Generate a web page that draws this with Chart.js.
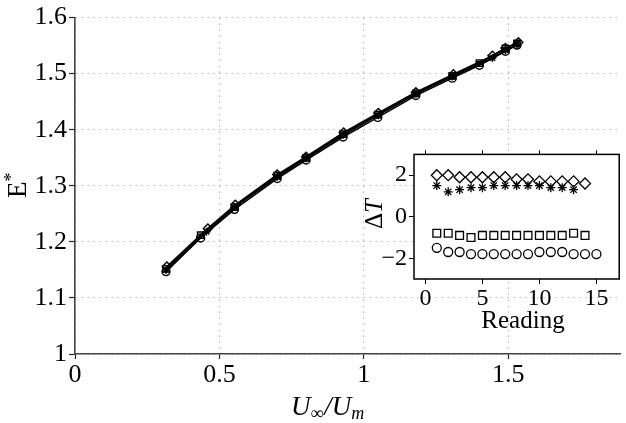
<!DOCTYPE html>
<html>
<head>
<meta charset="utf-8">
<script src="https://cdn.jsdelivr.net/npm/chart.js@4"></script>
<style>
html, body { margin: 0; padding: 0; background: #fff; }
#wrap { position: relative; width: 626px; height: 423px; overflow: hidden; }
#mainChart { position: absolute; left: 0; top: 0; }
#insetChart { position: absolute; left: 360px; top: 138px; }
</style>
</head>
<body>
<div id="wrap">
  <canvas id="mainChart" width="626" height="423"></canvas>
  <canvas id="insetChart" width="266" height="200"></canvas>
</div>
<script>
// ---- main plot data: E* against U_inf/U_m, one run per marker ----
const circleX   = [0.315, 0.435, 0.552, 0.700, 0.800, 0.928, 1.048, 1.180, 1.306, 1.400, 1.490, 1.530];
const circleY   = [1.147, 1.207, 1.258, 1.313, 1.346, 1.387, 1.422, 1.461, 1.492, 1.515, 1.540, 1.551];
const squareX   = [0.315, 0.435, 0.552, 0.700, 0.800, 0.928, 1.048, 1.180, 1.306, 1.400, 1.490, 1.530];
const squareY   = [1.152, 1.212, 1.262, 1.318, 1.350, 1.392, 1.427, 1.465, 1.496, 1.519, 1.545, 1.554];
const diamondX  = [0.318, 0.460, 0.555, 0.700, 0.800, 0.930, 1.050, 1.180, 1.310, 1.445, 1.490, 1.535];
const diamondY  = [1.156, 1.224, 1.266, 1.320, 1.352, 1.395, 1.430, 1.467, 1.499, 1.532, 1.546, 1.556];
const asteriskX = [0.315, 0.455, 0.552, 0.700, 0.800, 0.930, 1.050, 1.180, 1.306, 1.445, 1.490, 1.530];
const asteriskY = [1.150, 1.218, 1.262, 1.316, 1.349, 1.391, 1.426, 1.464, 1.495, 1.528, 1.542, 1.552];

const mainXTicks = [0, 0.5, 1, 1.5];
const mainXLabels = ['0', '0.5', '1', '1.5'];
const mainYTicks = [1, 1.1, 1.2, 1.3, 1.4, 1.5, 1.6];
const mainYLabels = ['1', '1.1', '1.2', '1.3', '1.4', '1.5', '1.6'];

// ---- inset data: Delta T per reading ----
const readings = [1, 2, 3, 4, 5, 6, 7, 8, 9, 10, 11, 12, 13, 14, 15];
const dtDiamond  = [2.0, 2.0, 1.9, 1.9, 1.9, 1.9, 1.9, 1.8, 1.8, 1.7, 1.7, 1.7, 1.7, 1.6];
const dtAsterisk = [1.5, 1.2, 1.3, 1.4, 1.4, 1.5, 1.5, 1.5, 1.5, 1.5, 1.4, 1.4, 1.3];
const dtSquare   = [-0.8, -0.8, -0.9, -1.0, -0.9, -0.9, -0.9, -0.9, -0.9, -0.9, -0.9, -0.9, -0.8, -0.9];
const dtCircle   = [-1.5, -1.7, -1.7, -1.8, -1.8, -1.8, -1.8, -1.8, -1.8, -1.7, -1.7, -1.7, -1.8, -1.8, -1.8];

const insetXTicks = [0, 5, 10, 15];
const insetXLabels = ['0', '5', '10', '15'];
const insetYTicks = [-2, 0, 2];
const insetYLabels = ['\u22122', '0', '2'];

const SERIF = "'Liberation Serif', 'DejaVu Serif', serif";

function pairs(xs, ys) {
    return ys.map((y, i) => ({ x: xs[i], y: y }));
}

function fixedTicks(values) {
    return function (scale) {
        scale.ticks = values.map(v => ({ value: v }));
    };
}

function labelFor(values, labels) {
    return function (v) {
        const i = values.findIndex(t => Math.abs(t - v) < 1e-9);
        return i >= 0 ? labels[i] : '';
    };
}

function mainSeries(label, xs, ys, style, radius) {
    return {
        label: label,
        data: pairs(xs, ys),
        borderColor: '#000',
        backgroundColor: 'rgba(0,0,0,0)',
        borderWidth: 1.6,
        pointStyle: style,
        pointRadius: radius,
        pointBorderWidth: 1.4,
        pointBorderColor: '#000',
        showLine: true,
        tension: 0
    };
}

function insetSeries(label, ys, style, radius) {
    return {
        label: label,
        data: pairs(readings, ys),
        borderColor: '#000',
        backgroundColor: 'rgba(0,0,0,0)',
        pointStyle: style,
        pointRadius: radius,
        pointBorderWidth: 1.3,
        showLine: false
    };
}

// axis titles with sub/superscripts drawn straight on the canvas
const mainTitles = {
    id: 'mainTitles',
    afterDraw(chart) {
        const ctx = chart.ctx;
        ctx.save();
        ctx.fillStyle = '#000';
        ctx.textBaseline = 'alphabetic';
        // x title: U_inf / U_m
        let x = 291, y = 415;
        ctx.font = 'italic 27px ' + SERIF;
        ctx.fillText('U', x, y); x += ctx.measureText('U').width;
        ctx.font = '18px ' + SERIF;
        ctx.fillText('\u221e', x, y + 4); x += ctx.measureText('\u221e').width + 1;
        ctx.font = 'italic 27px ' + SERIF;
        ctx.fillText('/U', x, y); x += ctx.measureText('/U').width;
        ctx.font = 'italic 18px ' + SERIF;
        ctx.fillText('m', x, y + 4);
        // y title: E*
        ctx.translate(26, 198);
        ctx.rotate(-Math.PI / 2);
        ctx.font = '27px ' + SERIF;
        ctx.fillText('E', 0, 0);
        const w = ctx.measureText('E').width;
        ctx.font = '18px ' + SERIF;
        ctx.fillText('*', w, -9);
        ctx.restore();
    }
};

const insetBox = {
    id: 'insetBox',
    beforeDraw(chart) {
        const a = chart.chartArea;
        chart.ctx.save();
        chart.ctx.fillStyle = '#fff';
        chart.ctx.fillRect(a.left, a.top, a.right - a.left, a.bottom - a.top);
        chart.ctx.restore();
    },
    afterDraw(chart) {
        const a = chart.chartArea;
        const ctx = chart.ctx;
        ctx.save();
        ctx.strokeStyle = '#000';
        ctx.lineWidth = 1.5;
        ctx.strokeRect(a.left, a.top, a.right - a.left, a.bottom - a.top);
        ctx.fillStyle = '#000';
        ctx.textAlign = 'center';
        ctx.font = '25px ' + SERIF;
        ctx.fillText('Reading', 163, 190);
        ctx.translate(22, 91);
        ctx.rotate(-Math.PI / 2);
        ctx.textAlign = 'left';
        ctx.fillText('\u0394', 0, 0);
        const w = ctx.measureText('\u0394').width;
        ctx.font = 'italic 25px ' + SERIF;
        ctx.fillText('T', w, 0);
        ctx.restore();
    }
};

function mainGrid(tickLength) {
    return {
        color: '#8c8c8c',
        lineWidth: 1,
        tickLength: tickLength,
        tickBorderDash: [],
        tickColor: '#222',
        tickWidth: 1.2
    };
}

new Chart(document.getElementById('mainChart').getContext('2d'), {
    type: 'scatter',
    data: {
        datasets: [
            mainSeries('circle', circleX, circleY, 'circle', 4),
            mainSeries('square', squareX, squareY, 'rect', 4.5),
            mainSeries('diamond', diamondX, diamondY, 'rectRot', 4.5),
            mainSeries('asterisk', asteriskX, asteriskY, 'star', 4)
        ]
    },
    options: {
        responsive: false,
        animation: false,
        layout: { padding: { top: 16, left: 0, right: 0, bottom: 0 } },
        plugins: { legend: { display: false }, tooltip: { enabled: false } },
        scales: {
            x: {
                type: 'linear',
                min: 0,
                max: 1.887,
                afterBuildTicks: fixedTicks(mainXTicks),
                afterFit: function (scale) { scale.height = 69; },
                ticks: {
                    callback: labelFor(mainXTicks, mainXLabels),
                    color: '#000',
                    font: { family: SERIF, size: 26 },
                    padding: 1,
                    maxRotation: 0
                },
                grid: mainGrid(5),
                border: { display: true, color: '#444', width: 1.6, dash: [1, 5] }
            },
            y: {
                type: 'linear',
                min: 1,
                max: 1.6,
                afterBuildTicks: fixedTicks(mainYTicks),
                afterFit: function (scale) { scale.width = 75; },
                ticks: {
                    callback: labelFor(mainYTicks, mainYLabels),
                    color: '#000',
                    font: { family: SERIF, size: 26 },
                    padding: 2
                },
                grid: mainGrid(6),
                border: { display: true, color: '#444', width: 1.6, dash: [1, 5] }
            }
        }
    },
    plugins: [mainTitles]
});

new Chart(document.getElementById('insetChart').getContext('2d'), {
    type: 'scatter',
    data: {
        datasets: [
            insetSeries('diamond', dtDiamond, 'rectRot', 5.5),
            insetSeries('asterisk', dtAsterisk, 'star', 4.5),
            insetSeries('square', dtSquare, 'rect', 5.5),
            insetSeries('circle', dtCircle, 'circle', 4.5)
        ]
    },
    options: {
        responsive: false,
        animation: false,
        layout: { padding: 0 },
        plugins: { legend: { display: false }, tooltip: { enabled: false } },
        scales: {
            x: {
                type: 'linear',
                min: -1,
                max: 17,
                afterBuildTicks: fixedTicks(insetXTicks),
                afterFit: function (scale) { scale.height = 59; },
                ticks: {
                    callback: labelFor(insetXTicks, insetXLabels),
                    color: '#000',
                    font: { family: SERIF, size: 24 },
                    padding: 0,
                    maxRotation: 0
                },
                grid: { drawOnChartArea: false, tickLength: 5, tickColor: '#000' },
                border: { display: false }
            },
            xTop: {
                type: 'linear',
                position: 'top',
                min: -1,
                max: 17,
                afterBuildTicks: fixedTicks(insetXTicks),
                afterFit: function (scale) { scale.height = 9; },
                ticks: { display: false },
                grid: { drawOnChartArea: false, tickLength: 4, tickColor: '#000' },
                border: { display: false }
            },
            y: {
                type: 'linear',
                min: -3,
                max: 3,
                afterBuildTicks: fixedTicks(insetYTicks),
                afterFit: function (scale) { scale.width = 54; },
                ticks: {
                    callback: labelFor(insetYTicks, insetYLabels),
                    color: '#000',
                    font: { family: SERIF, size: 24 },
                    padding: 2
                },
                grid: { drawOnChartArea: false, tickLength: 5, tickColor: '#000' },
                border: { display: false }
            }
        }
    },
    plugins: [insetBox]
});
</script>
</body>
</html>
